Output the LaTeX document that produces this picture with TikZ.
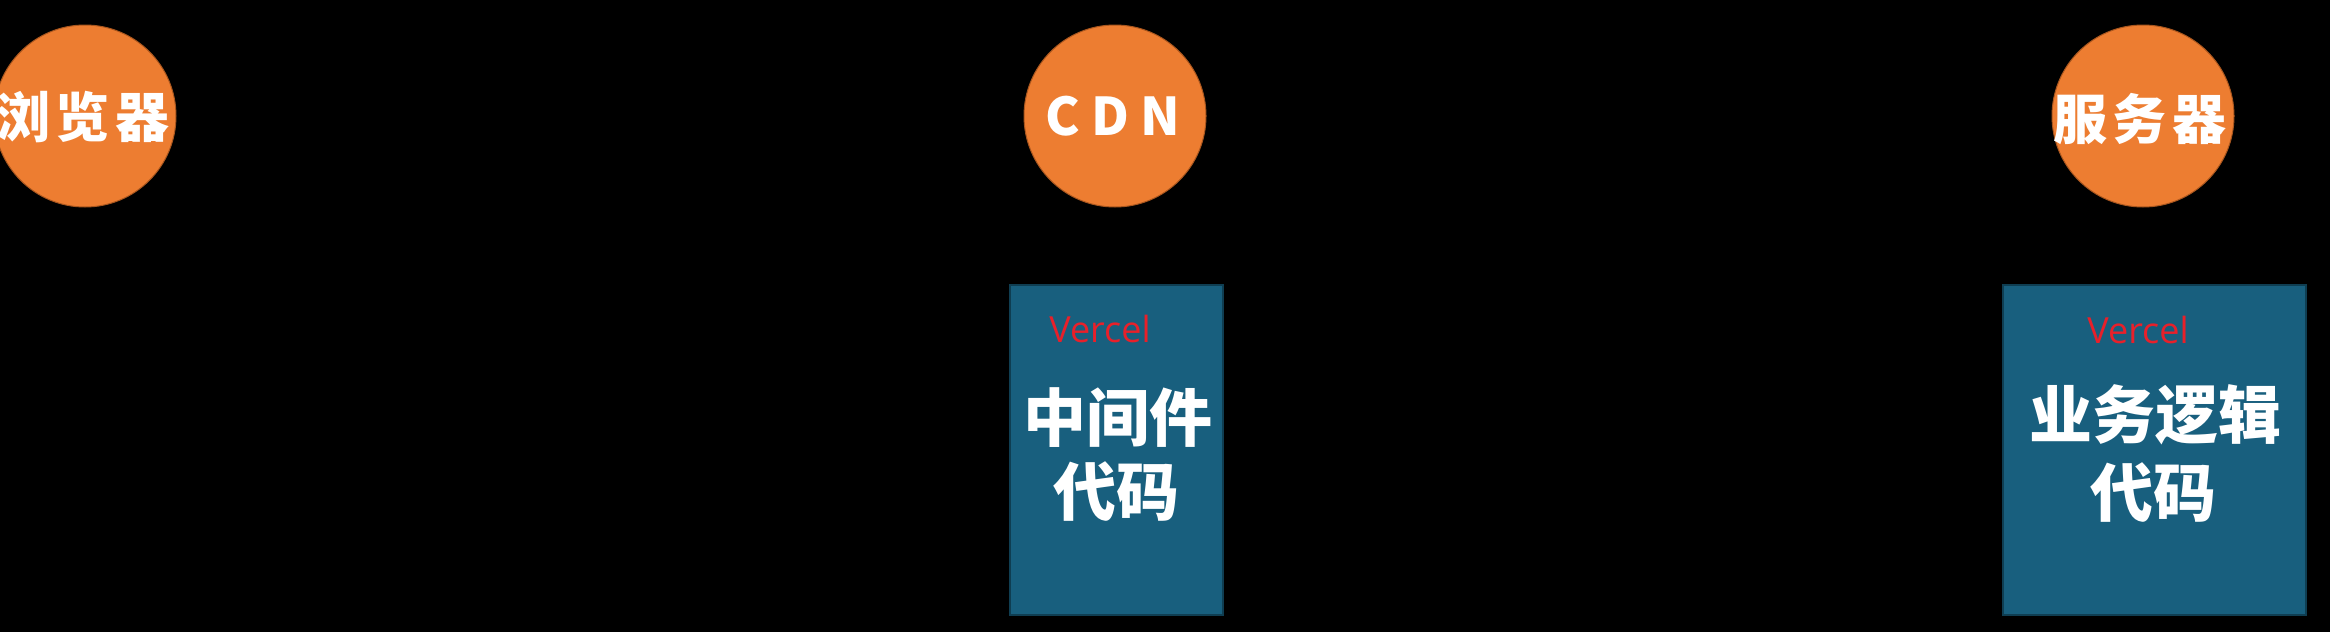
\documentclass[tikz,border=0pt]{standalone}
\usepackage{fontspec}
\newfontfamily\cjk{Noto Sans CJK SC}
\newfontfamily\latinf{Open Sans}
\definecolor{orangec}{HTML}{ED7D31}
\definecolor{orangeedge}{HTML}{A9561E}
\definecolor{boxfill}{HTML}{185F7E}
\definecolor{boxedge}{HTML}{0F3E52}
\definecolor{vred}{HTML}{E8202A}
\begin{document}
\begin{tikzpicture}[x=1pt,y=-1pt,
  circ/.style={circle,fill=orangec,draw=orangeedge,line width=1pt,minimum size=182pt,inner sep=0pt},
  circtext/.style={inner sep=0pt,anchor=base,text=white,font=\cjk\bfseries\fontsize{54}{60}\selectfont\addfontfeatures{LetterSpace=10}},
  codebox/.style={rectangle,fill=boxfill,draw=boxedge,line width=1.5pt,minimum height=330pt,inner sep=0pt},
  vtext/.style={inner sep=0pt,anchor=base,text=vred,font=\latinf\fontsize{36}{40}\selectfont},
  btext/.style={inner sep=0pt,anchor=base,text=white,font=\cjk\bfseries\fontsize{63}{70}\selectfont}
]
\useasboundingbox (0,0) rectangle (2330,632);
\fill[black] (0,0) rectangle (2330,632);

% circles
\node[circ] (browser) at (85,116) {};
\node[circ] (cdn) at (1115,116) {};
\node[circ] (server) at (2143,116) {};
\node[circtext] (browsert) at (83,137) {浏览器};
\node[circtext,font=\cjk\bfseries\fontsize{52}{60}\selectfont\addfontfeatures{LetterSpace=22}] (cdnt) at (1113,135) {CDN};
\node[circtext] (servert) at (2140,139) {服务器};

% boxes
\node[codebox,minimum width=213pt] (mid) at (1116.5,450) {};
\node[codebox,minimum width=303pt] (biz) at (2154.5,450) {};

\node[vtext] (midv) at (1100,342) {Vercel};
\node[vtext] (bizv) at (2138,343) {Vercel};

\node[btext] (mid1) at (1118,441) {中间件};
\node[btext] (mid2) at (1116,515) {代码};
\node[btext] (biz1) at (2155,438) {业务逻辑};
\node[btext] (biz2) at (2153,516) {代码};
\end{tikzpicture}
\end{document}
